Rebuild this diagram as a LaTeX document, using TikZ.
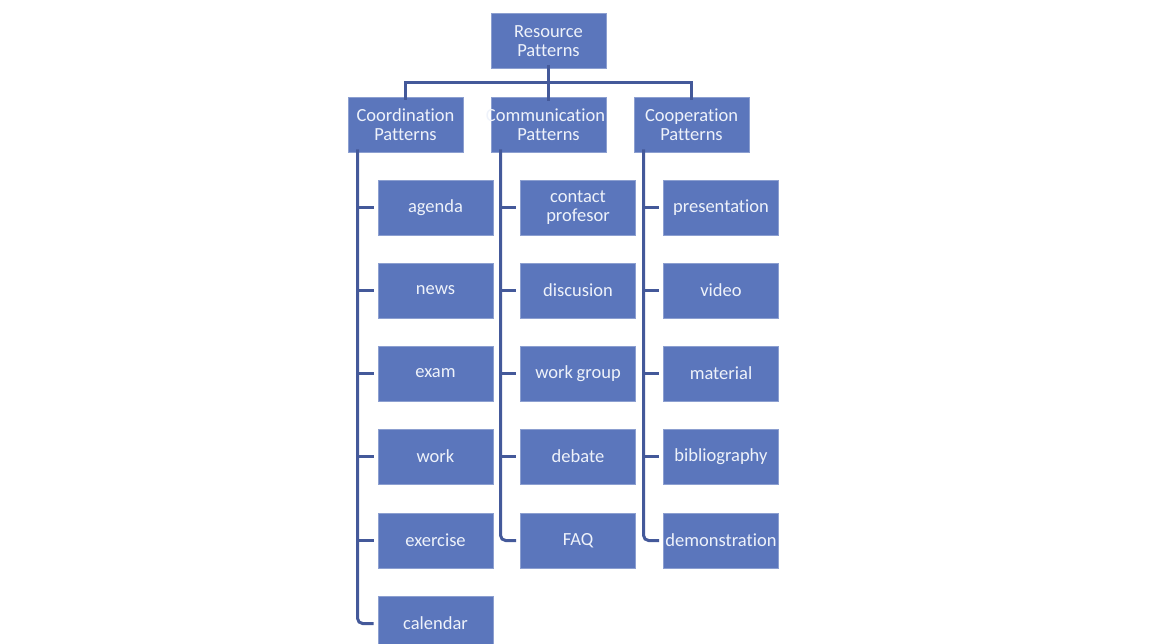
\documentclass[tikz,border=0pt]{standalone}
\usepackage{fontspec}
\setmainfont{Carlito}[Ligatures=NoCommon]
\usetikzlibrary{calc}
\definecolor{boxfill}{HTML}{5B76BC}
\definecolor{linecol}{HTML}{44599A}
\definecolor{txt}{HTML}{EEF2FA}
\tikzset{
  pbox/.style={draw=boxfill!70!white, line width=0.8pt, fill=boxfill, text=txt,
    text width=115pt, minimum height=55pt, inner sep=0pt, align=center,
    font=\fontsize{18.5}{19.5}\selectfont},
  conn/.style={draw=linecol, line width=3pt},
}
\begin{document}
\begin{tikzpicture}[x=1pt,y=-1pt]
\useasboundingbox (0,0) rectangle (1163,644);
\clip (0,0) rectangle (1163,644);
% level 0
\node[pbox] (root) at (548.5,41) {Resource\\Patterns};
% level 1
\node[pbox] (coord) at (405.5,124.5) {Coordination\\Patterns};
\node[pbox] (comm)  at (548.5,124.5) {\hspace*{-6pt}Communication\hspace*{-6pt}\\Patterns};
\node[pbox] (coop)  at (691.5,124.5) {Cooperation\\Patterns};
% coordination children
\node[pbox] (agenda)   at (435.5,207.5) {agenda};
\node[pbox] (news)     at (435.5,290.5) {news};
\node[pbox] (exam)     at (435.5,373.5) {exam};
\node[pbox] (work)     at (435.5,456.5) {work};
\node[pbox] (exercise) at (435.5,540.5) {exercise};
\node[pbox] (calendar) at (435.5,623.5) {calendar};
% communication children
\node[pbox] (contact) at (578,207.5) {contact\\profesor};
\node[pbox] (discus)  at (578,290.5) {discusion};
\node[pbox] (wgroup)  at (578,373.5) {\mbox{work\hspace{0.2em}group}};
\node[pbox] (debate)  at (578,456.5) {debate};
\node[pbox] (faq)     at (578,540.5) {FAQ};
% cooperation children
\node[pbox] (present) at (721,207.5) {presentation};
\node[pbox] (video)   at (721,290.5) {video};
\node[pbox] (mater)   at (721,373.5) {material};
\node[pbox] (biblio)  at (721,456.5) {bibliography};
\node[pbox] (demo)    at (721,540.5) {demonstration};
% bus from root
\coordinate (bus) at ($(root.south)!0.5!(comm.north)$);
\draw[conn] ([yshift=-3pt]coord.north) |- (bus) -| ([yshift=-3pt]coop.north);
\draw[conn] ([yshift=4pt]root.south) -- ([yshift=-4pt]comm.north);
% spines
\coordinate (s1) at ([xshift=10pt,yshift=3pt]coord.south west);
\coordinate (s2) at ([xshift=10pt,yshift=3pt]comm.south west);
\coordinate (s3) at ([xshift=10pt,yshift=3pt]coop.south west);
\draw[conn, rounded corners=5pt] (s1) |- ([xshift=-4pt]calendar.west);
\draw[conn, rounded corners=5pt] (s2) |- ([xshift=-4pt]faq.west);
\draw[conn, rounded corners=5pt] (s3) |- ([xshift=-4pt]demo.west);
\foreach \c in {agenda,news,exam,work,exercise}
  \draw[conn] (s1 |- \c.west) -- ([xshift=-4pt]\c.west);
\foreach \c in {contact,discus,wgroup,debate}
  \draw[conn] (s2 |- \c.west) -- ([xshift=-4pt]\c.west);
\foreach \c in {present,video,mater,biblio}
  \draw[conn] (s3 |- \c.west) -- ([xshift=-4pt]\c.west);
\end{tikzpicture}
\end{document}
